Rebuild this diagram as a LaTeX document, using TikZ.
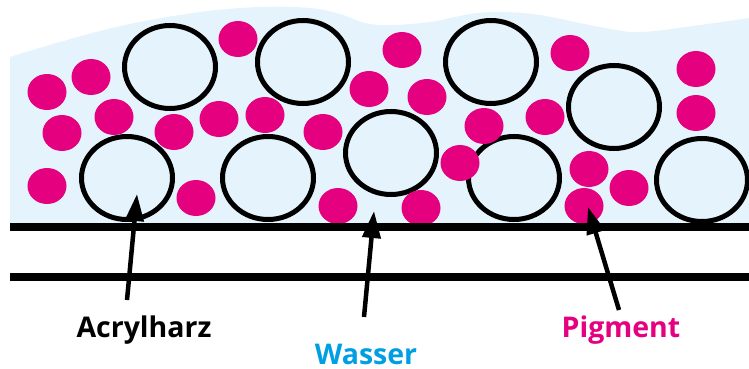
\documentclass[tikz,border=0pt]{standalone}
\usepackage{fontspec}
\setmainfont{Open Sans}
\usetikzlibrary{shapes.geometric,arrows.meta}

\definecolor{water}{HTML}{E5F4FC}
\definecolor{pigment}{HTML}{E4007F}
\definecolor{wasserblue}{HTML}{009FE3}

\tikzset{
  resin/.style={ellipse, draw=black, line width=5pt, fill=water,
    minimum width=91pt, minimum height=83pt, inner sep=0pt},
  dot/.style={ellipse, fill=pigment, minimum width=39pt,
    minimum height=36pt, inner sep=0pt},
  baseline/.style={line width=7.5pt, black},
  pointer/.style={line width=4.5pt, -{Triangle[length=27pt,width=18pt]}},
  label/.style={font=\bfseries\fontsize{28.5}{32}\selectfont, anchor=base, inner sep=0pt}
}

\begin{document}
\begin{tikzpicture}[x=1pt,y=-1pt]
  \useasboundingbox (0,0) rectangle (749,369);

  % water layer with a wavy surface
  \fill[water] plot[smooth, tension=0.6] coordinates {
      (10,57) (60,42) (125,25) (200,12) (260,7) (310,8) (340,14)
      (365,23) (390,25) (430,22) (470,14) (500,12) (540,15)
      (600,27) (640,32) (700,25) (749,18)}
    -- (749,227) -- (10,227) -- cycle;

  % acrylic resin particles
  \node[resin] (r1) at (170,67) {};
  \node[resin] (r2) at (303,62) {};
  \node[resin] (r3) at (491,62) {};
  \node[resin] (r4) at (391,153) {};
  \node[resin] (r5) at (614,107) {};
  \node[resin] (r6) at (127,178) {};
  \node[resin] (r7) at (268,178) {};
  \node[resin] (r8) at (514,178) {};
  \node[resin] (r9) at (702,180) {};

  % pigment particles
  \foreach \p/\x/\y in {
      1/47/92, 2/91/77, 3/62/133, 4/114/117, 5/47/186, 6/238/39,
      7/174/132, 8/219/119, 9/265/115, 10/196/198, 11/323/132,
      12/338/206, 13/369/89, 14/402/50, 15/427/97, 16/484/126,
      17/545/117, 18/570/53, 19/460/163, 20/421/208, 21/589/169,
      22/584/206, 23/629/188, 24/696/69, 25/696/113}
    \node[dot] (p\p) at (\x,\y) {};

  % substrate lines
  \draw[baseline] (10,227) -- (749,227);
  \draw[baseline] (10,277) -- (749,277);

  % labels
  \node[label, text=black] (acryl) at (144,337) {Acrylharz};
  \node[label, text=wasserblue] (wasser) at (366,364.5) {Wasser};
  \node[label, text=pigment] (pigm) at (621,337) {Pigment};

  % arrow end points
  \coordinate (acrylTail) at (127,300);
  \coordinate (acrylTip) at (137,194);
  \coordinate (wasserTail) at (364,317);
  \coordinate (wasserTip) at (374,211);
  \coordinate (pigmTail) at (619,310);
  \coordinate (pigmTip) at (588,207);

  \draw[pointer] (acrylTail) -- (acrylTip);
  \draw[pointer] (wasserTail) -- (wasserTip);
  \draw[pointer] (pigmTail) -- (pigmTip);
\end{tikzpicture}
\end{document}
